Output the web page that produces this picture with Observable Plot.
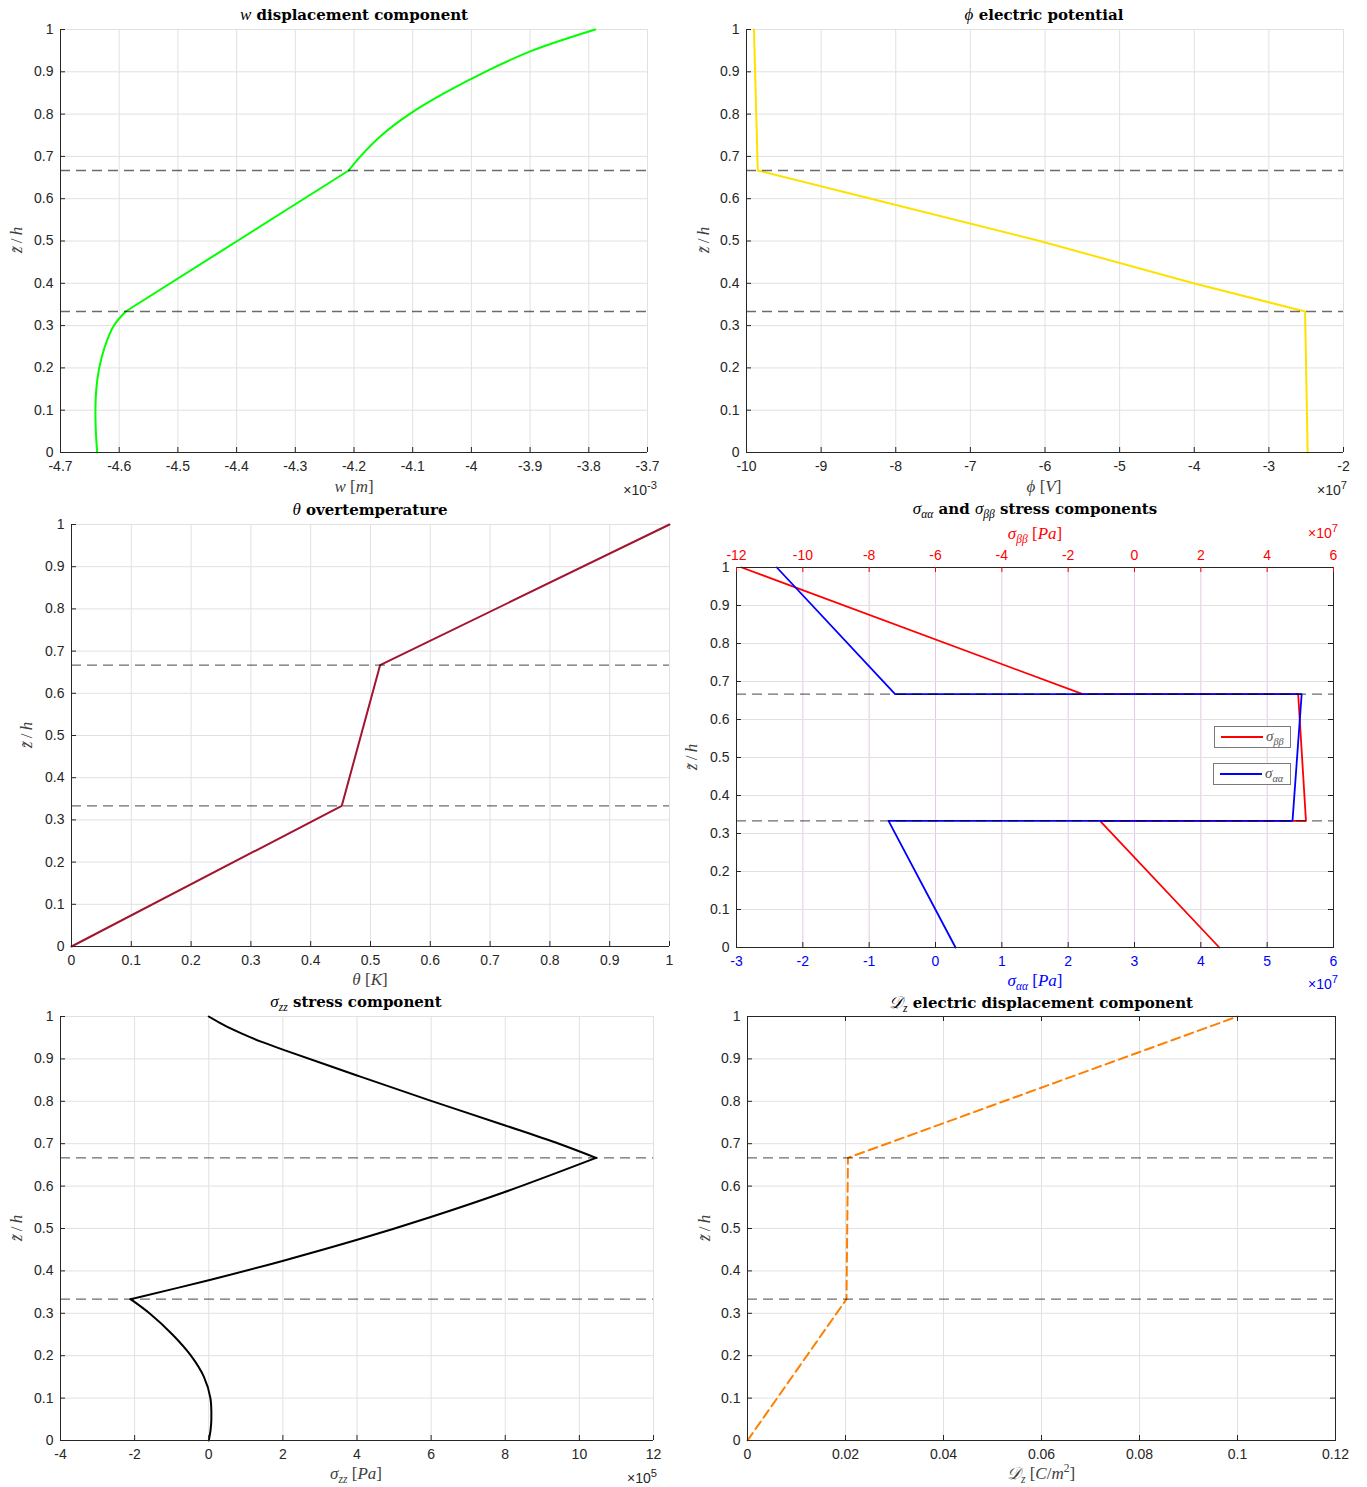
<!DOCTYPE html>
<html>
<head>
<meta charset="utf-8">
<script src="https://cdn.jsdelivr.net/npm/d3@7"></script>
<script src="https://cdn.jsdelivr.net/npm/@observablehq/plot@0.6"></script>
<style>
  body { margin: 0; background: #fff; }
  #page { position: relative; width: 1367px; height: 1487px; overflow: hidden; background: #fff; font-family: "Liberation Sans", Arial, sans-serif; }
  .panel { position: absolute; }
  .panel svg { display: block; }
  .title { position: absolute; font-family: "DejaVu Serif", "Liberation Serif", serif; font-weight: bold; font-size: 15px; color: #000; white-space: nowrap; transform: translate(-50%, -50%); }
  .title .m { font-family: "Liberation Serif", serif; font-weight: normal; font-style: italic; font-size: 17px; }
  .lab { position: absolute; font-family: "Liberation Serif", "DejaVu Serif", serif; font-style: italic; font-size: 17px; color: #404040; white-space: nowrap; transform: translate(-50%, -50%); }
  .lab .u { font-style: normal; }
  .ylab { transform: translate(-50%, -50%) rotate(-90deg); }
  sub, sup { font-size: 68%; line-height: 0; }
  .exp { position: absolute; font-size: 14px; color: #262626; white-space: nowrap; transform: translate(-100%, -50%); }
  .exp sup { font-size: 80%; }
  .leg { position: absolute; border: 1px solid #7a7a7a; background: #fff; height: 22px; box-sizing: border-box; }
  .leg .ln { position: absolute; left: 6px; top: 9px; width: 42px; height: 2px; }
  .leg .tx { position: absolute; left: 51px; top: 1px; font-family: "Liberation Serif", serif; font-style: italic; font-size: 15px; color: #555; }
</style>
</head>
<body>
<div id="page"></div>
<script>
// ---------- shared ----------
const zTicks = [0, 0.1, 0.2, 0.3, 0.4, 0.5, 0.6, 0.7, 0.8, 0.9, 1];
const interfaces = [1 / 3, 2 / 3];

// ---------- panel 1: w displacement (x 10^-3 m) ----------
const w_z     = [0, 0.05, 0.1, 0.15, 0.2, 0.25, 0.3, 0.3333,
                 0.3333, 0.6667,
                 0.6667, 0.7, 0.75, 0.8, 0.85, 0.9, 0.95, 1];
const w_val   = [-4.6375, -4.6398, -4.6405, -4.639, -4.634, -4.6245, -4.609, -4.589,
                 -4.589, -4.209,
                 -4.209, -4.189, -4.153, -4.1055, -4.0455, -3.9765, -3.8965, -3.789];
const w_layer = [1, 1, 1, 1, 1, 1, 1, 1, 2, 2, 3, 3, 3, 3, 3, 3, 3, 3];
const w_xTicks = [-4.7, -4.6, -4.5, -4.4, -4.3, -4.2, -4.1, -4, -3.9, -3.8, -3.7];

// ---------- panel 2: phi electric potential (x 10^7 V) ----------
const phi_z     = [0, 0.3333, 0.3333, 0.4, 0.5, 0.6, 0.6667, 0.6667, 1];
const phi_val   = [-2.48, -2.515, -2.515, -4.01, -6.07, -8.33, -9.849, -9.849, -9.90];
const phi_xTicks = [-10, -9, -8, -7, -6, -5, -4, -3, -2];

// ---------- panel 3: theta overtemperature (K) ----------
const th_z   = [0, 0.3333, 0.6667, 1];
const th_val = [0, 0.452, 0.516, 1];
const th_xTicks = [0, 0.1, 0.2, 0.3, 0.4, 0.5, 0.6, 0.7, 0.8, 0.9, 1];

// ---------- panel 4: sigma_aa (bottom, x 10^7 Pa) and sigma_bb (top, x 10^7 Pa) ----------
const saa_z   = [0, 0.3333, 0.3333, 0.6667, 0.6667, 1];
const saa_val = [0.302, -0.708, 5.382, 5.52, -0.609, -2.392];
const sbb_z   = [0, 0.3333, 0.3333, 0.6667, 0.6667, 1];
const sbb_val = [2.557, -1.04, 5.17, 4.935, -1.56, -11.84];
const saa_xTicks = [-3, -2, -1, 0, 1, 2, 3, 4, 5, 6];
const sbb_xTicks = [-12, -10, -8, -6, -4, -2, 0, 2, 4, 6];

// ---------- panel 5: sigma_zz (x 10^5 Pa) ----------
const szz_z     = [0, 0.025, 0.05, 0.1, 0.15, 0.2, 0.25, 0.3, 0.3333,
                   0.3333, 0.378, 0.4235, 0.4745, 0.526, 0.585, 0.6667,
                   0.6667, 0.7, 0.743, 0.801, 0.861, 0.922, 0.94, 0.96, 0.98, 1];
const szz_val   = [0, 0.05, 0.07, 0.045, -0.13, -0.48, -0.98, -1.6, -2.11,
                   -2.11, 0, 1.99, 4.05, 5.95, 7.95, 10.45,
                   10.45, 9.45, 8.0, 6.0, 4.0, 2.0, 1.43, 0.88, 0.40, 0];
const szz_layer = [1, 1, 1, 1, 1, 1, 1, 1, 1, 2, 2, 2, 2, 2, 2, 2, 3, 3, 3, 3, 3, 3, 3, 3, 3, 3];
const szz_xTicks = [-4, -2, 0, 2, 4, 6, 8, 10, 12];

// ---------- panel 6: D_z electric displacement (C/m^2) ----------
const dz_z   = [0, 0.3333, 0.6667, 1];
const dz_val = [0, 0.0202, 0.0205, 0.1];
const dz_xTicks = [0, 0.02, 0.04, 0.06, 0.08, 0.1, 0.12];

const rows = (zs, vs, ls) => zs.map((z, i) => ({z, v: vs[i], layer: ls ? ls[i] : 1}));

// ---------- panel factory ----------
const AX = "#262626", GRID = "#e1e1e1", FS = 14;
function mkPlot(c) {
  const fw = c.fx1 - c.fx0, fh = c.fy1 - c.fy0, T = 5;
  const marks = [
    Plot.gridX(c.xTicks, {stroke: c.gridX || GRID, strokeOpacity: 1}),
    Plot.gridY(zTicks, {stroke: GRID, strokeOpacity: 1}),
    ...c.marks,
    Plot.ruleY(interfaces, {stroke: "#000", strokeOpacity: 0.58, strokeWidth: 1.4, strokeDasharray: "10,6"})
  ];
  if (c.box) marks.push(Plot.frame({stroke: AX}));
  else marks.push(Plot.ruleX([c.xDomain[0]], {stroke: AX}), Plot.ruleY([0], {stroke: AX}));
  marks.push(Plot.tickY(zTicks, {y: d => d, stroke: AX, insetRight: fw - T}));
  marks.push(Plot.tickX(c.xTicks, {x: d => d, stroke: c.bottomTick || AX, insetTop: fh - T}));
  if (c.box) {
    marks.push(Plot.tickY(zTicks, {y: d => d, stroke: AX, insetLeft: fw - T}));
    marks.push(Plot.tickX(c.xTicks, {x: d => d, stroke: c.topTick || AX, insetBottom: fh - T}));
  }
  marks.push(Plot.axisY(zTicks, {anchor: "left", tickSize: 0, tickPadding: 7, fontSize: FS, tickFormat: d => String(d), label: null, fill: AX}));
  marks.push(Plot.axisX(c.xTicks, {anchor: "bottom", tickSize: 0, tickPadding: 9, fontSize: FS, tickFormat: c.xFmt || (d => String(d)), label: null, fill: c.bottomFill || AX}));
  if (c.topFmt) marks.push(Plot.axisX(c.xTicks, {anchor: "top", tickSize: 0, tickPadding: 8, fontSize: FS, tickFormat: c.topFmt, label: null, fill: c.topFill}));
  const svg = Plot.plot({
    width: c.sw, height: c.sh,
    marginLeft: c.fx0 - c.sx, marginRight: c.sx + c.sw - c.fx1,
    marginTop: c.fy0 - c.sy, marginBottom: c.sy + c.sh - c.fy1,
    x: {type: "linear", domain: c.xDomain, axis: null},
    y: {type: "linear", domain: [0, 1], axis: null},
    style: {fontFamily: "'Liberation Sans', Arial, sans-serif", fontSize: FS + "px", overflow: "visible"},
    marks
  });
  const div = document.createElement("div");
  div.className = "panel";
  div.style.left = c.sx + "px"; div.style.top = c.sy + "px";
  div.appendChild(svg);
  page.appendChild(div);
}
const page = document.getElementById("page");
function html(cls, x, y, content, style) {
  const d = document.createElement("div");
  d.className = cls; d.style.left = x + "px"; d.style.top = y + "px";
  if (style) d.style.cssText += style;
  d.innerHTML = content;
  page.appendChild(d);
}

// Panel 1
mkPlot({sx: 0, sy: 0, sw: 683, sh: 495, fx0: 60, fx1: 647, fy0: 29, fy1: 452,
  xDomain: [-4.7, -3.7], xTicks: w_xTicks,
  marks: [Plot.line(rows(w_z, w_val, w_layer), {x: "v", y: "z", z: "layer", stroke: "#00ff00", strokeWidth: 2, curve: "catmull-rom"})]});
// Panel 2
mkPlot({sx: 683, sy: 0, sw: 684, sh: 495, fx0: 746, fx1: 1343, fy0: 29, fy1: 452,
  xDomain: [-10, -2], xTicks: phi_xTicks,
  marks: [Plot.line(rows(phi_z, phi_val), {x: "v", y: "z", stroke: "#ffe100", strokeWidth: 2})]});
// Panel 3
mkPlot({sx: 0, sy: 495, sw: 683, sh: 495, fx0: 71, fx1: 669, fy0: 524, fy1: 946,
  xDomain: [0, 1], xTicks: th_xTicks,
  marks: [Plot.line(rows(th_z, th_val), {x: "v", y: "z", stroke: "#a2142f", strokeWidth: 2})]});
// Panel 4 (top red axis mapped onto bottom scale: bottom = top/2 + 3)
const toBottom = t => t / 2 + 3;
mkPlot({sx: 683, sy: 495, sw: 684, sh: 495, fx0: 736, fx1: 1333, fy0: 567, fy1: 947, box: true,
  xDomain: [-3, 6], xTicks: saa_xTicks, gridX: "#e3c9e3",
  bottomFill: "#0000ff", topFill: "#ff0000", topTick: "#ff0000",
  topFmt: b => String(sbb_xTicks[saa_xTicks.indexOf(b)]),
  marks: [
    Plot.line(rows(sbb_z, sbb_val), {x: d => toBottom(d.v), y: "z", stroke: "#ff0000", strokeWidth: 1.8}),
    Plot.line(rows(saa_z, saa_val), {x: "v", y: "z", stroke: "#0000ff", strokeWidth: 1.8})
  ]});
// Panel 5
mkPlot({sx: 0, sy: 990, sw: 683, sh: 497, fx0: 60, fx1: 653, fy0: 1016, fy1: 1440,
  xDomain: [-4, 12], xTicks: szz_xTicks,
  marks: [Plot.line(rows(szz_z, szz_val, szz_layer), {x: "v", y: "z", z: "layer", stroke: "#000", strokeWidth: 2, curve: "catmull-rom"})]});
// Panel 6
mkPlot({sx: 683, sy: 990, sw: 684, sh: 497, fx0: 747, fx1: 1335, fy0: 1016, fy1: 1440, box: true,
  xDomain: [0, 0.12], xTicks: dz_xTicks,
  marks: [Plot.line(rows(dz_z, dz_val), {x: "v", y: "z", stroke: "#ff8000", strokeWidth: 2, strokeDasharray: "9,5"})]});

// ---------- titles, labels, exponents ----------
const zh = 'z&#771;<span class="u">&#8201;/&#8201;</span>h';
html("title", 354, 15, '<span class="m">w</span> displacement component');
html("title", 1044, 15, '<span class="m">ϕ</span> electric potential');
html("title", 370, 510, '<span class="m">θ</span> overtemperature');
html("title", 1035, 509, '<span class="m">σ<sub>αα</sub></span> and <span class="m">σ<sub>ββ</sub></span> stress components');
html("title", 356, 1002, '<span class="m">σ<sub>zz</sub></span> stress component');
html("title", 1041, 1003, '<span class="m">𝒟<sub>z</sub></span> electric displacement component');

html("lab", 354, 487, 'w <span class="u">[</span>m<span class="u">]</span>');
html("lab", 1044, 487, 'ϕ <span class="u">[</span>V<span class="u">]</span>');
html("lab", 370, 980, 'θ <span class="u">[</span>K<span class="u">]</span>');
html("lab", 1035, 981, 'σ<sub>αα</sub> <span class="u">[</span>Pa<span class="u">]</span>', "color:#0000ff;");
html("lab", 1035, 534, 'σ<sub>ββ</sub> <span class="u">[</span>Pa<span class="u">]</span>', "color:#ff0000;");
html("lab", 356, 1474, 'σ<sub>zz</sub> <span class="u">[</span>Pa<span class="u">]</span>');
html("lab", 1041, 1474, '𝒟<sub>z</sub> <span class="u">[</span>C<span class="u">/</span>m<sup class="u">2</sup><span class="u">]</span>');

html("lab ylab", 17, 240, zh);
html("lab ylab", 704, 240, zh);
html("lab ylab", 27, 735, zh);
html("lab ylab", 692, 757, zh);
html("lab ylab", 17, 1228, zh);
html("lab ylab", 705, 1228, zh);

html("exp", 657, 490, '×10<sup>-3</sup>');
html("exp", 1347, 490, '×10<sup>7</sup>');
html("exp", 1338, 533, '×10<sup>7</sup>', "color:#ff0000;");
html("exp", 1338, 984, '×10<sup>7</sup>', "color:#0000ff;");
html("exp", 657, 1478, '×10<sup>5</sup>');

// ---------- legend (panel 4) ----------
html("leg", 1214, 726, '<div class="ln" style="background:#ff0000"></div><div class="tx">σ<sub>ββ</sub></div>', "width:77px;");
html("leg", 1213, 763, '<div class="ln" style="background:#0000ff"></div><div class="tx">σ<sub>αα</sub></div>', "width:78px;");
</script>
</body>
</html>
